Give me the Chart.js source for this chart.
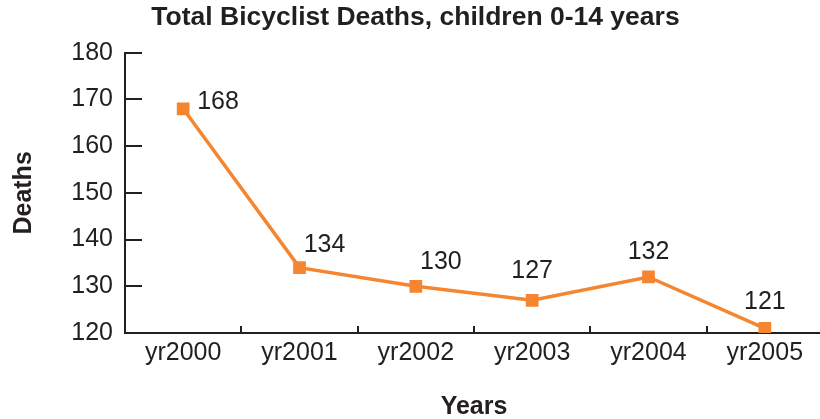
<!DOCTYPE html>
<html>
<head>
<meta charset="utf-8">
<script src="https://cdn.jsdelivr.net/npm/chart.js@4/dist/chart.umd.min.js"></script>
<style>
  html, body { margin: 0; padding: 0; background: #fff; overflow: hidden; }
</style>
</head>
<body>
<canvas id="deaths-chart" width="832" height="419"></canvas>
<script>
// data
const years = ['yr2000', 'yr2001', 'yr2002', 'yr2003', 'yr2004', 'yr2005'];
const deaths = [168, 134, 130, 127, 132, 121];

// where each value label sits relative to its point
const labelDx = [14, 25, 25, 0, 0, 0];
const labelDy = [-7, -23, -24, -29, -25, -26];
const labelAlign = ['left', 'center', 'center', 'center', 'center', 'center'];

const ORANGE = '#f5862f';
const INK = '#231f20';
const FONT = "'Liberation Sans', Arial, sans-serif";

// inward ticks + value labels
const decorations = {
    id: 'decorations',
    afterDatasetsDraw(chart) {
        const ctx = chart.ctx;
        const x = chart.scales.x;
        const y = chart.scales.y;
        ctx.save();
        ctx.strokeStyle = INK;
        ctx.lineWidth = 2;
        // y ticks point into the plot
        y.ticks.forEach(function(t) {
            const py = Math.round(y.getPixelForValue(t.value));
            ctx.beginPath();
            ctx.moveTo(x.left, py);
            ctx.lineTo(x.left + 17, py);
            ctx.stroke();
        });
        // x ticks at category boundaries, pointing up
        for (let i = 1; i < years.length; i++) {
            const px = Math.round(x.getPixelForValue(i - 0.5));
            ctx.beginPath();
            ctx.moveTo(px, y.bottom);
            ctx.lineTo(px, y.bottom - 7);
            ctx.stroke();
        }
        // value labels
        const meta = chart.getDatasetMeta(0);
        ctx.fillStyle = INK;
        ctx.font = '25px ' + FONT;
        ctx.textBaseline = 'middle';
        meta.data.forEach(function(pt, i) {
            ctx.textAlign = labelAlign[i];
            ctx.fillText(String(deaths[i]), pt.x + labelDx[i], pt.y + labelDy[i]);
        });
        ctx.restore();
    }
};

const ctx = document.getElementById('deaths-chart').getContext('2d');
const chart = new Chart(ctx, {
    type: 'line',
    data: {
        labels: years,
        datasets: [{
            data: deaths,
            borderColor: ORANGE,
            backgroundColor: ORANGE,
            borderWidth: 3.5,
            pointStyle: 'rect',
            pointRadius: 9,
            pointHoverRadius: 9,
            pointBorderWidth: 0,
            tension: 0
        }]
    },
    options: {
        responsive: false,
        animation: false,
        layout: { padding: { left: 0, right: 1, top: 0, bottom: 0 } },
        plugins: {
            legend: { display: false },
            tooltip: { enabled: false },
            title: {
                display: true,
                text: 'Total Bicyclist Deaths, children 0-14 years',
                color: INK,
                font: { family: FONT, size: 26.5, weight: 'bold' },
                padding: { top: 2, bottom: 19 }
            }
        },
        scales: {
            x: {
                offset: true,
                grid: { display: false, drawTicks: false },
                border: { display: true, color: INK, width: 2 },
                ticks: {
                    color: INK,
                    padding: 5,
                    font: { family: FONT, size: 25 }
                },
                title: {
                    display: true,
                    text: 'Years',
                    color: INK,
                    font: { family: FONT, size: 25, weight: 'bold' },
                    padding: { top: 18, bottom: -3 }
                },
                afterFit(scale) { scale.height = 86; }
            },
            y: {
                min: 120,
                max: 180,
                grid: { display: false, drawTicks: false },
                border: { display: true, color: INK, width: 2 },
                ticks: {
                    stepSize: 10,
                    color: INK,
                    padding: 12,
                    font: { family: FONT, size: 25 }
                },
                title: {
                    display: true,
                    text: 'Deaths',
                    color: INK,
                    font: { family: FONT, size: 25, weight: 'bold' },
                    padding: { top: 9, bottom: 0 }
                },
                afterFit(scale) { scale.width = 125; }
            }
        }
    },
    plugins: [decorations]
});
</script>
</body>
</html>
